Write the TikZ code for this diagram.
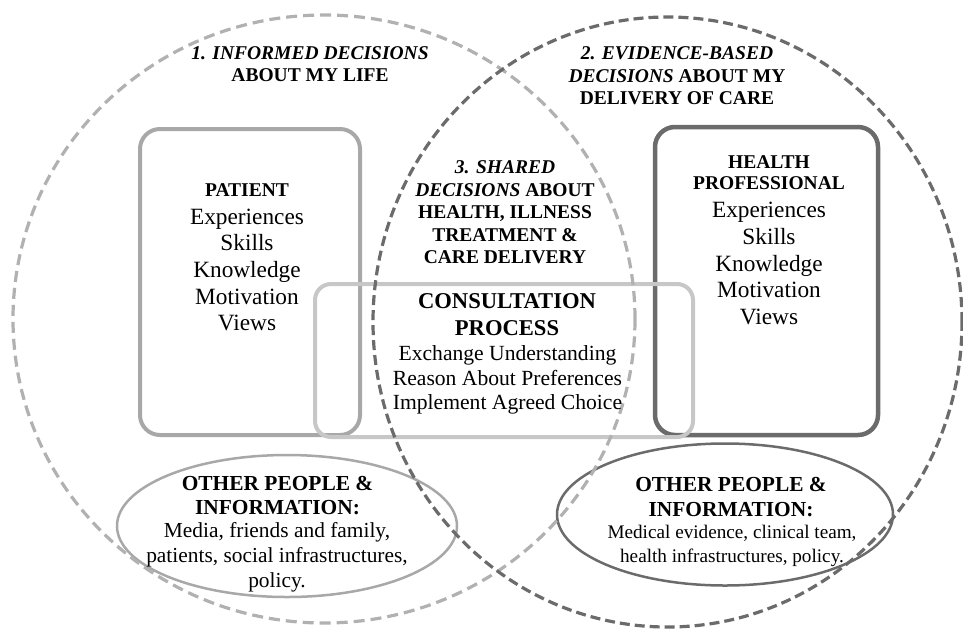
\documentclass[tikz,border=0pt]{standalone}
\usepackage{fontspec}
\setmainfont{Liberation Serif}
\usetikzlibrary{shapes, positioning}

\definecolor{palegray}{gray}{0.78}
\definecolor{lightgray}{gray}{0.66}
\definecolor{darkgray}{gray}{0.42}

\tikzset{
	headtext/.style={font=\fontsize{19.5}{22.5}\selectfont\bfseries, align=center, inner sep=0pt},
	bodytext/.style={font=\fontsize{23.3}{26.7}\selectfont, align=center, inner sep=0pt},
}

\begin{document}
\begin{tikzpicture}[x=1pt, y=-1pt]
		\useasboundingbox (0,0) rectangle (963,630);
		
		% Boxes
		\draw[lightgray, line width=4pt, rounded corners=20pt] (140,129) rectangle (360,435);
		\draw[darkgray, line width=4.5pt, rounded corners=20pt] (655,127) rectangle (878,435);
		\draw[palegray, line width=4pt, rounded corners=16pt] (315,284) rectangle (693,437);
		
		% Other people ellipses
		\draw[lightgray, line width=2.5pt] (287,526) ellipse [x radius=170pt, y radius=71pt];
		\draw[darkgray, line width=2.5pt] (725,514.5) ellipse [x radius=168pt, y radius=71pt];
		
		% Decision circles
		\draw[lightgray!90, line width=3.2pt, dash pattern=on 11pt off 6pt] (324,319) ellipse [x radius=311pt, y radius=304pt];
		\draw[darkgray, line width=3.2pt, dash pattern=on 10pt off 5pt] (667.5,322) ellipse [x radius=294.5pt, y radius=305pt];
		
		% Decision labels
		\node[headtext] (informed) at (310,64) {\textit{1. INFORMED DECISIONS}\\ABOUT MY LIFE};
		\node[headtext] (evidence) at (677,76) {\textit{2. EVIDENCE-BASED}\\\textit{DECISIONS} ABOUT MY\\DELIVERY OF CARE};
		\node[headtext] (shared) at (505,212.5) {\textit{3. SHARED}\\\textit{DECISIONS} ABOUT\\HEALTH, ILLNESS\\TREATMENT \&\\CARE DELIVERY};
		
		% Patient
		\node[headtext] (patient) at (247,190) {PATIENT};
		\node[bodytext] (patientlist) at (247,270) {Experiences\\Skills\\Knowledge\\Motivation\\Views};
		
		% Health professional
		\node[headtext, font=\fontsize{19.5}{21}\selectfont\bfseries] (professional) at (769,173) {HEALTH\\PROFESSIONAL};
		\node[bodytext] (professionallist) at (769,263.5) {Experiences\\Skills\\Knowledge\\Motivation\\Views};
		
		% Consultation
		\node[headtext, font=\fontsize{22.6}{27}\selectfont\bfseries] (consultation) at (507,315) {CONSULTATION\\PROCESS};
		\node[bodytext, font=\fontsize{21.6}{24.5}\selectfont] (consultationlist) at (507.5,380) {Exchange Understanding\\Reason About Preferences\\Implement Agreed Choice};
		
		% Other people
		\node[headtext, font=\fontsize{21.4}{24}\selectfont\bfseries] (patientothers) at (277.5,495.5) {OTHER PEOPLE \&\\INFORMATION:};
		\node[bodytext, font=\fontsize{21.4}{25}\selectfont] (patientinfo) at (277,557.5) {Media, friends and family,\\patients, social infrastructures,\\policy.};
		\node[headtext, font=\fontsize{21.4}{25}\selectfont\bfseries] (professionalothers) at (731,497) {OTHER PEOPLE \&\\INFORMATION:};
		\node[bodytext, font=\fontsize{19.2}{24}\selectfont] (professionalinfo) at (732,545.5) {Medical evidence, clinical team,\\health infrastructures, policy.};
	\end{tikzpicture}
\end{document}
